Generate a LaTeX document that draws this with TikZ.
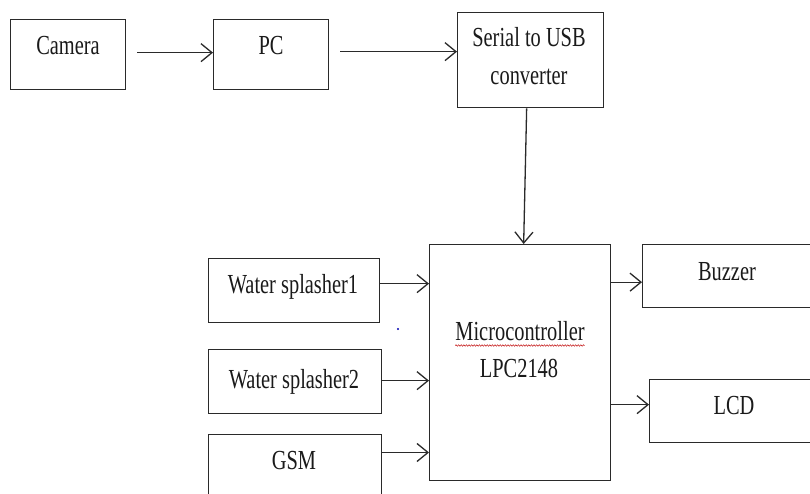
\documentclass[tikz,border=0pt]{standalone}
\usepackage{fontspec}
\setmainfont{Liberation Serif}
\usetikzlibrary{arrows.meta,decorations.pathmorphing}
\definecolor{ink}{HTML}{2A2A2A}
\definecolor{txt}{HTML}{1A1A1A}
\newcommand{\lbl}[1]{\scalebox{1}[1.35]{#1}}
\tikzset{
  blk/.style={draw=ink, line width=1.3pt, inner sep=0pt, anchor=north west, rectangle},
  lab/.style={anchor=base, inner sep=0pt, text=txt, font=\fontsize{20.4}{24}\selectfont},
  arr/.style={draw=ink, line width=1.3pt, -{Straight Barb[length=11pt,width=18pt,line width=1.3pt]}}
}
\begin{document}
\begin{tikzpicture}[x=1pt,y=-1pt]
\useasboundingbox (0,0) rectangle (810,494);
\clip (0,0) rectangle (810,494);
\fill[white] (0,0) rectangle (810,494);
% boxes
\node[blk, minimum width=115pt, minimum height=70pt] (cam) at (10,19) {};
\node[blk, minimum width=115pt, minimum height=70pt] (pc) at (213,19) {};
\node[blk, minimum width=146pt, minimum height=95pt] (ser) at (457,12) {};
\node[blk, minimum width=171pt, minimum height=64pt] (ws1) at (208,258) {};
\node[blk, minimum width=173pt, minimum height=64pt] (ws2) at (208,349) {};
\node[blk, minimum width=173pt, minimum height=90pt] (gsm) at (208,434) {};
\node[blk, minimum width=181pt, minimum height=236pt] (micro) at (429,244) {};
\node[blk, minimum width=200pt, minimum height=63pt] (buz) at (642,244) {};
\node[blk, minimum width=200pt, minimum height=63pt] (lcd) at (649,379) {};
% labels
\node[lab] (tcam) at (68,55) {\lbl{Camera}};
\node[lab] (tpc) at (271,55) {\lbl{PC}};
\node[lab] (tser1) at (529,47) {\lbl{Serial to USB}};
\node[lab] (tser2) at (529,85) {\lbl{converter}};
\node[lab] (tws1) at (293,293) {\lbl{Water splasher1}};
\node[lab] (tws2) at (294,388) {\lbl{Water splasher2}};
\node[lab] (tgsm) at (294,469) {\lbl{GSM}};
\node[lab] (tmc) at (520,340) {\lbl{Microcontroller}};
\node[lab] (tlpc) at (519,377) {\lbl{LPC2148}};
\node[lab] (tbuz) at (727,280) {\lbl{Buzzer}};
\node[lab] (tlcd) at (734,414) {\lbl{LCD}};
% spell-check underline
\draw[red!75!black, line width=0.45pt, decorate,
  decoration={snake, amplitude=0.8pt, segment length=2.6pt}]
  ([yshift=-5.5pt]tmc.base west) -- ([yshift=-5.5pt]tmc.base east);
% stray dot
\fill[blue!70!black] (398,329) circle (1.2pt);
% connectors
\draw[arr, shorten <=11pt] ([yshift=2pt]cam.east) -- ([yshift=2pt]pc.west);
\coordinate (p1) at ([yshift=3pt]pc.east);
\draw[arr, shorten <=11pt] (p1) -- (p1 -| ser.west);
\draw[arr] ([xshift=-4pt]ser.south) -- ([xshift=3.5pt]micro.north);
\coordinate (w1) at ([yshift=7pt]ws1.east);
\draw[arr] (w1) -- (w1 -| micro.west);
\coordinate (w2) at ([yshift=1pt]ws2.east);
\draw[arr] (w2) -- (w2 -| micro.west);
\coordinate (g1) at ([yshift=-18.5pt]gsm.north east);
\draw[arr] (g1) -- (g1 -| micro.west);
\coordinate (bz) at ([yshift=-6pt]buz.west);
\draw[arr] (bz -| micro.east) -- (bz);
\coordinate (lc) at ([yshift=6.5pt]lcd.west);
\draw[arr] (lc -| micro.east) -- (lc);
\end{tikzpicture}
\end{document}
